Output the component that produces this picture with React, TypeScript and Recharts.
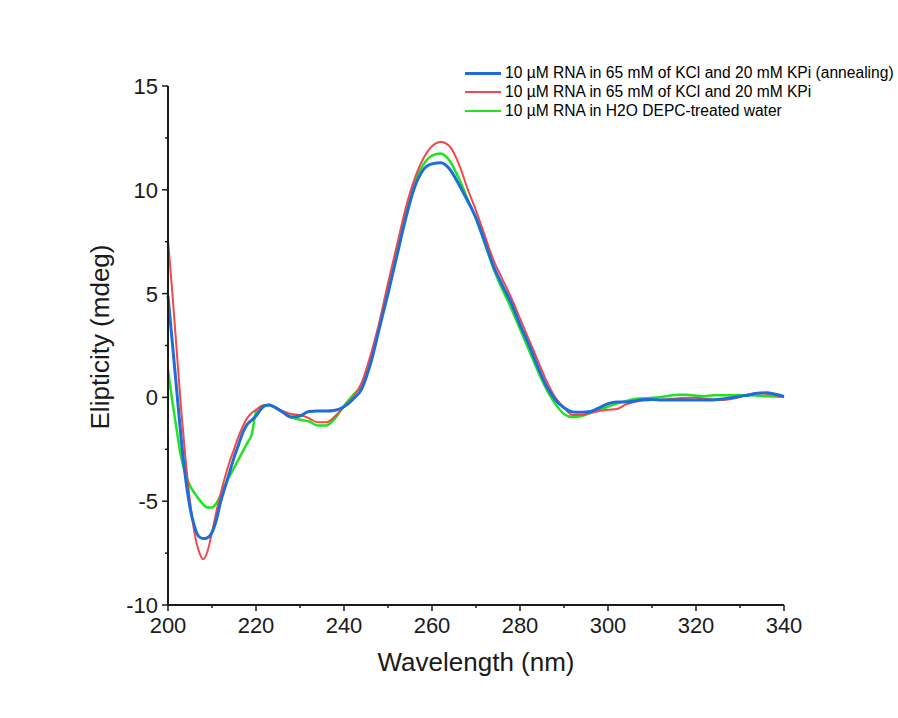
import { Line, LineChart, XAxis, YAxis } from "recharts";

// wavelength grid (nm): 1 nm steps through the 200-224 region, 2 nm after that
const wavelengths = [
  200, 201, 202, 203, 204, 205, 206, 207, 208, 209, 210, 211, 212, 213, 214, 215, 216, 217, 218, 219,
  220, 221, 222, 223, 224, 226, 228, 230, 232, 234, 236, 238, 240, 242, 244, 246, 248, 250, 252, 254,
  256, 258, 260, 262, 264, 266, 268, 270, 272, 274, 276, 278, 280, 282, 284, 286, 288, 290, 292, 294,
  296, 298, 300, 302, 304, 306, 308, 310, 312, 314, 316, 318, 320, 322, 324, 326, 328, 330, 332, 334,
  336, 338, 340,
];

const annealing = [
  4.9, 2.6, 0.3, -2.0, -3.9, -5.3, -6.2, -6.7, -6.8, -6.75, -6.5, -5.9, -5.0, -4.3, -3.6, -2.9, -2.3, -1.7, -1.3, -1.1,
  -0.9, -0.6, -0.4, -0.37, -0.45, -0.7, -0.95, -0.9, -0.68, -0.66, -0.66, -0.62, -0.45, -0.1, 0.4, 1.6, 3.3, 5.0, 6.8, 8.6,
  10.1, 10.96, 11.25, 11.3, 11.0, 10.3, 9.5, 8.65, 7.5, 6.3, 5.4, 4.55, 3.5, 2.55, 1.5, 0.55, -0.1, -0.5, -0.7, -0.72,
  -0.68, -0.5, -0.3, -0.22, -0.22, -0.18, -0.1, -0.1, -0.12, -0.13, -0.13, -0.13, -0.13, -0.13, -0.12, -0.08, -0.02, 0.05, 0.12, 0.2,
  0.22, 0.15, 0.05,
];

const kclKpi = [
  7.6, 5.0, 2.2, -0.6, -3.0, -5.0, -6.5, -7.4, -7.8, -7.4, -6.5, -5.5, -4.6, -3.8, -3.1, -2.5, -1.9, -1.4, -1.0, -0.75,
  -0.6, -0.45, -0.38, -0.37, -0.45, -0.65, -0.8, -0.85, -1.0, -1.2, -1.2, -0.9, -0.45, 0.0, 0.7, 2.0, 3.6, 5.5, 7.3, 9.1,
  10.5, 11.5, 12.1, 12.3, 12.1, 11.3, 10.1, 9.0, 7.8, 6.6, 5.7, 4.8, 3.8, 2.8, 1.8, 0.8, 0.0, -0.5, -0.85, -0.85,
  -0.75, -0.65, -0.6, -0.56, -0.35, -0.22, -0.15, -0.13, -0.12, -0.08, -0.04, -0.02, -0.02, -0.06, -0.1, -0.13, -0.08, 0.02, 0.15, 0.2,
  0.18, 0.1, 0.0,
];

const depcWater = [
  1.35, -0.2, -1.6, -2.9, -3.7, -4.25, -4.6, -4.9, -5.15, -5.3, -5.3, -5.1, -4.7, -4.2, -3.8, -3.4, -3.0, -2.6, -2.2, -1.8,
  -0.7, -0.45, -0.38, -0.37, -0.45, -0.7, -0.95, -1.08, -1.15, -1.35, -1.35, -1.0, -0.4, 0.1, 0.6, 1.8, 3.4, 5.3, 7.1, 8.9,
  10.3, 11.2, 11.65, 11.75, 11.4, 10.6, 9.6, 8.6, 7.4, 6.2, 5.2, 4.3, 3.3, 2.3, 1.3, 0.4, -0.3, -0.8, -0.95, -0.9,
  -0.75, -0.6, -0.45, -0.3, -0.18, -0.08, -0.05, -0.02, 0.02, 0.08, 0.13, 0.13, 0.08, 0.06, 0.1, 0.1, 0.1, 0.1, 0.1, 0.08,
  0.05, 0.04, 0.03,
];

const xTicks = [200, 210, 220, 230, 240, 250, 260, 270, 280, 290, 300, 310, 320, 330, 340];
const yTicks = [-10, -7.5, -5, -2.5, 0, 2.5, 5, 7.5, 10, 12.5, 15];

const series = [
  { key: "annealing", name: "10 µM RNA in 65 mM of KCl and 20 mM KPi (annealing)", color: "#1f6ddb", width: 3 },
  { key: "kclKpi", name: "10 µM RNA in 65 mM of KCl and 20 mM KPi", color: "#f2484a", width: 2 },
  { key: "depcWater", name: "10 µM RNA in H2O DEPC-treated water", color: "#1ee31e", width: 2.5 },
];

const chartData = wavelengths.map((nm, i) => ({
  nm,
  annealing: annealing[i],
  kclKpi: kclKpi[i],
  depcWater: depcWater[i],
}));

const FONT = "Arial, 'Liberation Sans', sans-serif";
const INK = "#1a1a1a";

const XTick = (props: any) => {
  const { x, y, payload } = props;
  const major = payload.value % 20 === 0;
  return (
    <g>
      <line x1={x} y1={y} x2={x} y2={y + (major ? 6 : 3)} stroke={INK} strokeWidth={1.5} />
      {major && (
        <text x={x} y={y + 28} textAnchor="middle" fontSize={22} fontFamily={FONT} fill={INK}>
          {payload.value}
        </text>
      )}
    </g>
  );
};

const YTick = (props: any) => {
  const { x, y, payload } = props;
  const major = payload.value % 5 === 0;
  return (
    <g>
      <line x1={x} y1={y} x2={x - (major ? 6 : 3)} y2={y} stroke={INK} strokeWidth={1.5} />
      {major && (
        <text x={x - 10} y={y + 8} textAnchor="end" fontSize={22} fontFamily={FONT} fill={INK}>
          {payload.value}
        </text>
      )}
    </g>
  );
};

export default function App() {
  return (
    <div style={{ position: "absolute", left: 0, top: 0, width: 898, height: 718, background: "#fff" }}>
      <LineChart
        width={898}
        height={718}
        data={chartData}
        margin={{ top: 86, right: 114, bottom: 0, left: 0 }}
      >
        <XAxis
          dataKey="nm"
          type="number"
          domain={[200, 340]}
          ticks={xTicks}
          interval={0}
          height={113}
          tickSize={0}
          tickMargin={0}
          tickLine={false}
          axisLine={{ stroke: INK, strokeWidth: 2 }}
          tick={XTick}
        />
        <YAxis
          type="number"
          domain={[-10, 15]}
          ticks={yTicks}
          interval={0}
          width={168}
          tickSize={0}
          tickMargin={0}
          tickLine={false}
          axisLine={{ stroke: INK, strokeWidth: 2 }}
          tick={YTick}
        />
        {[...series].reverse().map((s) => (
          <Line
            key={s.key}
            type="monotone"
            dataKey={s.key}
            name={s.name}
            stroke={s.color}
            strokeWidth={s.width}
            dot={false}
            activeDot={false}
            isAnimationActive={false}
          />
        ))}
      </LineChart>

      {/* legend, top right */}
      <div
        style={{
          position: "absolute",
          top: 64,
          left: 465,
          fontFamily: FONT,
          fontSize: 15.6,
          color: "#000",
          lineHeight: "18.8px",
        }}
      >
        {series.map((s) => (
          <div key={s.key} style={{ display: "flex", alignItems: "center", whiteSpace: "nowrap" }}>
            <span
              style={{ display: "inline-block", width: 36, height: s.width, background: s.color, marginRight: 4 }}
            />
            <span>{s.name}</span>
          </div>
        ))}
      </div>

      <div
        style={{
          position: "absolute",
          left: 476,
          top: 662,
          transform: "translate(-50%, -50%)",
          fontFamily: FONT,
          fontSize: 26,
          color: INK,
          whiteSpace: "nowrap",
        }}
      >
        Wavelength (nm)
      </div>
      <div
        style={{
          position: "absolute",
          left: 100,
          top: 337,
          transform: "translate(-50%, -50%) rotate(-90deg)",
          fontFamily: FONT,
          fontSize: 26,
          color: INK,
          whiteSpace: "nowrap",
        }}
      >
        Elipticity (mdeg)
      </div>
    </div>
  );
}
